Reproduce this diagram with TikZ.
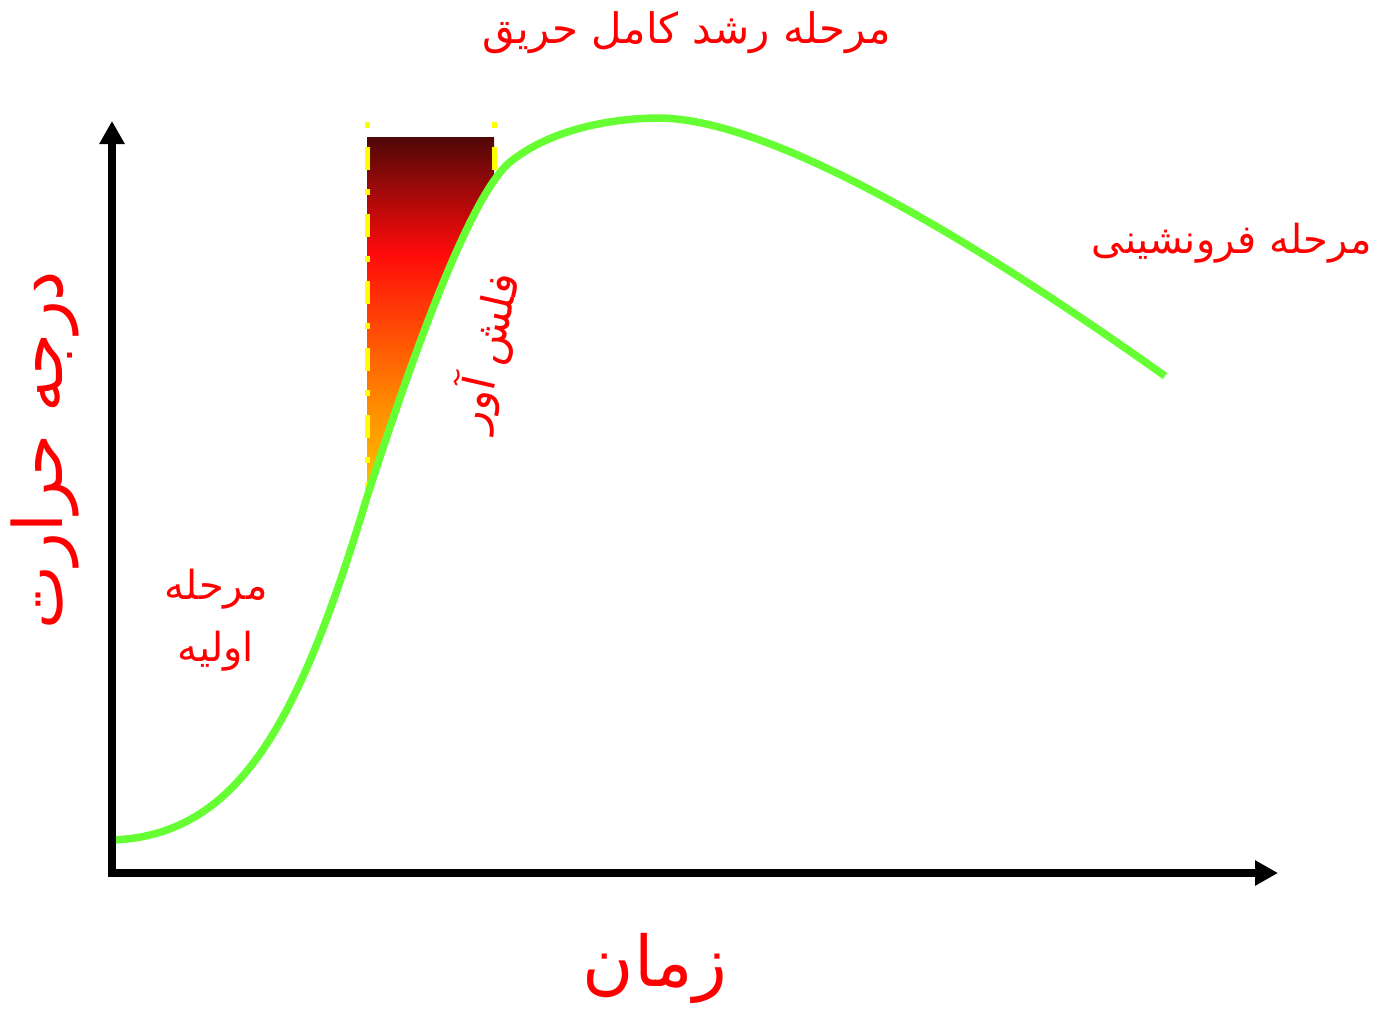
\documentclass[tikz,border=0pt]{standalone}
\usepackage{fontspec}
\usetikzlibrary{arrows.meta}
\TeXXeTstate=1
\newfontfamily\arabicfont[Script=Arabic]{DejaVu Sans}
\definecolor{fgreen}{HTML}{66FF33}
\definecolor{fyellow}{HTML}{FFFF00}
\definecolor{fred}{HTML}{FF0000}
\definecolor{shbot}{HTML}{FFC800}
\definecolor{shorange}{HTML}{FF8C00}
\definecolor{shred}{HTML}{FF0A0A}
\definecolor{shtop}{HTML}{500808}
\pgfdeclareverticalshading{fire}{100bp}{color(0bp)=(shbot); color(25bp)=(shbot); color(38bp)=(shorange); color(59bp)=(shred); color(75bp)=(shtop); color(100bp)=(shtop)}
\newcommand{\firepath}{(113,840) .. controls (240,835) and (300,720) .. (367,497) .. controls (400,395) and (465,200) .. (510,162) .. controls (555,126) and (620,118) .. (660,118) .. controls (790,120) and (1030,280) .. (1165,376)}
\begin{document}
\begin{tikzpicture}[x=1pt,y=-1pt,
  axis/.style={line width=7.5pt,-{Triangle[length=23pt,width=24pt]}},
  firecurve/.style={fgreen,line width=7.5pt},
  guide/.style={fyellow,line width=5pt,dash pattern=on 6pt off 19pt on 23pt off 19pt},
  lbl/.style={text=fred,inner sep=0pt,font=\arabicfont},
]
\useasboundingbox (0,0) rectangle (1393,1013);
% axes
\coordinate (Ystart) at (112,877);
\coordinate (Ytip) at (112,121);
\coordinate (Xstart) at (108,873);
\coordinate (Xtip) at (1278,873);
% gradient region
\begin{scope}
  \clip \firepath -- (1165,0) -- (0,0) -- cycle;
  \shade[shading=fire] (367,137) rectangle (494,500);
\end{scope}
% yellow guides
\coordinate (gl1) at (367,122);
\coordinate (gl2) at (367,492);
\coordinate (gr1) at (494,122);
\coordinate (gr2) at (494,178);
\draw[guide] (gl1) -- (gl2);
\draw[guide] (gr1) -- (gr2);
% curve
\draw[firecurve] \firepath;
\draw[axis] (Ystart) -- (Ytip);
\draw[axis] (Xstart) -- (Xtip);
% labels
\node[lbl,font=\arabicfont\fontsize{42}{46}\selectfont] (title) at (687,33) {\beginR مرحله رشد کامل حریق\endR};
\node[lbl,font=\arabicfont\fontsize{40}{44}\selectfont] (decay) at (1232,243) {\beginR مرحله فرونشینی\endR};
\node[lbl,font=\arabicfont\fontsize{40}{62}\selectfont,align=center] (initial) at (216,620) {\beginR مرحله\endR\\\beginR اولیه\endR};
\node[lbl,rotate=90,font=\arabicfont\fontsize{68}{72}\selectfont] (ylab) at (45,450) {\beginR درجه حرارت\endR};
\node[lbl,font=\arabicfont\fontsize{70}{76}\selectfont] (xlab) at (655,968) {\beginR زمان\endR};
\node[lbl,rotate=77,font=\arabicfont\fontsize{44}{48}\selectfont] (flash) at (487,352) {\beginR فلش آور\endR};
\end{tikzpicture}
\end{document}
